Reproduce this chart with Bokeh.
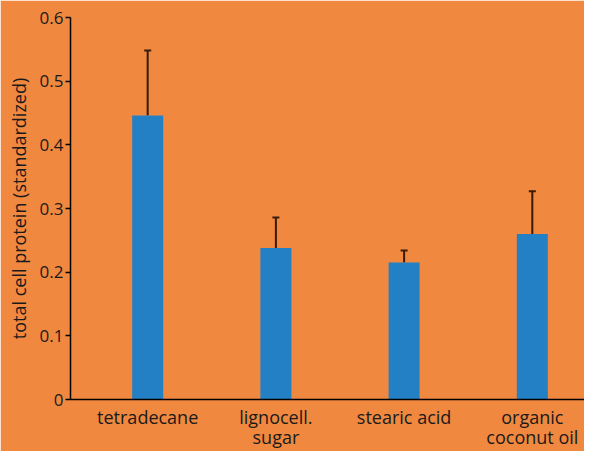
from bokeh.plotting import figure
from bokeh.models import Range1d, FixedTicker, Whisker, TeeHead, ColumnDataSource
from bokeh.embed import file_html
from bokeh.resources import INLINE

categories = ["tetradecane", "lignocell.\nsugar", "stearic acid", "organic\ncoconut oil"]
protein = [0.446, 0.238, 0.215, 0.260]
error_upper = [0.548, 0.286, 0.234, 0.327]
y_ticks = [0, 0.1, 0.2, 0.3, 0.4, 0.5, 0.6]
y_tick_labels = ["0", "0.1", "0.2", "0.3", "0.4", "0.5", "0.6"]

BG = "#F0883F"
BAR = "#2480C5"
ERR = "#3A1A08"
TXT = "#1A1A1A"
FONT = "Open Sans"

X_START, X_END = -0.602, 3.407

xs = list(range(len(categories)))
src = ColumnDataSource(dict(x=xs, top=protein, upper=error_upper))

p = figure(width=584, height=451, output_backend="svg", toolbar_location=None,
           x_range=Range1d(X_START, X_END), y_range=Range1d(0, 0.6),
           min_border_left=70, min_border_right=0, min_border_top=17, min_border_bottom=33)
p.background_fill_color = BG
p.border_fill_color = BG
p.outline_line_color = BG
p.outline_line_width = 2
p.grid.visible = False

p.vbar(x="x", top="top", width=0.242, source=src, fill_color=BAR, line_color=None)
w = Whisker(base="x", lower="top", upper="upper", source=src,
            line_color=ERR, line_width=2,
            upper_head=TeeHead(size=7, line_color=ERR, line_width=2), lower_head=None)
p.add_layout(w)

p.yaxis.ticker = FixedTicker(ticks=y_ticks)
p.yaxis.major_label_overrides = {t: l for t, l in zip(y_ticks, y_tick_labels)}
p.yaxis.axis_label = "total cell protein (standardized)"
p.yaxis.axis_label_text_font = FONT
p.yaxis.axis_label_text_font_style = "normal"
p.yaxis.axis_label_text_font_size = "18px"
p.yaxis.axis_label_text_color = TXT
p.yaxis.axis_label_standoff = 6
p.yaxis.major_label_text_font = FONT
p.yaxis.major_label_text_font_size = "17px"
p.yaxis.major_label_text_color = TXT
p.yaxis.major_tick_out = 5
p.yaxis.major_tick_in = 0
p.yaxis.minor_tick_line_color = None
p.yaxis.axis_line_color = "black"
p.yaxis.axis_line_width = 1.5
p.yaxis.major_tick_line_color = "black"
p.yaxis.major_tick_line_width = 1.5
p.yaxis.major_label_standoff = 2

p.xaxis.ticker = FixedTicker(ticks=xs)
p.xaxis.major_label_overrides = {i: c for i, c in zip(xs, categories)}
p.xaxis.major_label_text_font = FONT
p.xaxis.major_label_text_font_size = "18px"
p.xaxis.major_label_text_line_height = 0.84
p.xaxis.major_label_text_color = TXT
p.xaxis.major_label_standoff = 5
p.xaxis.major_tick_out = 0
p.xaxis.major_tick_in = 0
p.xaxis.minor_tick_line_color = None
p.xaxis.axis_line_color = "black"
p.xaxis.axis_line_width = 1.5

open("out.html", "w").write(file_html(p, INLINE))
